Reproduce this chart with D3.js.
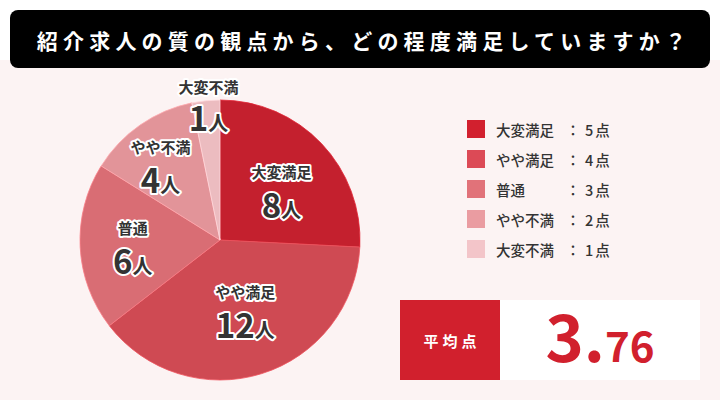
<!DOCTYPE html>
<html><head><meta charset="utf-8">
<script src="https://cdn.jsdelivr.net/npm/d3@7"></script>
<style>
html,body{margin:0;padding:0;background:#fff;}
text{font-family:"Noto Sans CJK JP","Noto Sans",sans-serif;}
</style></head>
<body>
<svg id="c" width="720" height="400"></svg>
<script>
const title = "紹介求人の質の観点から、どの程度満足していますか？";
const categories = ["大変満足","やや満足","普通","やや不満","大変不満"];
const counts = [8,12,6,4,1];
const scores = ["5点","4点","3点","2点","1点"];
const pieColors = ["#c4202e","#cf4a53","#d96d74","#e29499","#ecbcc0"];
const legendColors = ["#d2202e","#dc4a56","#e17279","#ea9ca1","#f3c5c9"];
const averageLabel = "平均点";
const averageValue = ["3.","76"];

const svg = d3.select("#c");
svg.append("rect").attr("x",0).attr("y",60).attr("width",720).attr("height",340).attr("fill","#fcf3f3");
svg.append("rect").attr("x",10).attr("y",10).attr("width",700).attr("height",58).attr("rx",8).attr("fill","#000");
svg.append("text").attr("x",364).attr("y",40).attr("text-anchor","middle").attr("dominant-baseline","central")
  .attr("fill","#fff").attr("font-size",21).attr("font-weight",700).attr("letter-spacing","5.2px").text(title);

const cx=220, cy=240, R=140;
const pie = d3.pie().sort(null).value(d=>d)(counts);
const arc = d3.arc().innerRadius(0).outerRadius(R);
const g = svg.append("g").attr("transform",`translate(${cx},${cy})`);
g.selectAll("path").data(pie).join("path").attr("d",arc)
  .attr("fill",(d,i)=>pieColors[i]).attr("stroke",(d,i)=>d3.color(pieColors[i]).brighter(0.4)).attr("stroke-width",0.8);

// label layout: polar placement (radius fraction, angle tweak in degrees) per slice
const labelLayout = [[0.54,8],[0.57,-1],[0.63,-5],[0.65,-6],[0.94,0.8]];
pie.forEach((d,i)=>{
  const a = (d.startAngle+d.endAngle)/2 + labelLayout[i][1]*Math.PI/180;
  const r = R*labelLayout[i][0];
  const x = Math.sin(a)*r, y = -Math.cos(a)*r;
  const lg = g.append("g").attr("transform",`translate(${x},${y})`);
  lg.append("text").attr("text-anchor","middle").attr("y",i===4?-16:-18).attr("font-size",15).attr("font-weight",700)
    .attr("fill","#333").attr("stroke","#fff").attr("stroke-width",4).attr("stroke-linejoin","round")
    .attr("paint-order","stroke").text(categories[i]);
  const t = lg.append("text").attr("text-anchor","middle").attr("y",22).attr("font-weight",700)
    .attr("fill","#333").attr("stroke","#fff").attr("stroke-width",4).attr("stroke-linejoin","round")
    .attr("paint-order","stroke");
  t.append("tspan").attr("font-size",33).text(counts[i]);
  t.append("tspan").attr("font-size",20).text("人");
});

// legend
const leg = svg.append("g").attr("transform","translate(467,120)");
categories.forEach((c,i)=>{
  const row = leg.append("g").attr("transform",`translate(0,${i*30})`);
  row.append("rect").attr("width",18).attr("height",18).attr("fill",legendColors[i]);
  row.append("text").attr("x",29).attr("y",9).attr("dominant-baseline","central").attr("font-size",14.5)
    .attr("fill","#333").attr("font-weight",500).text(c);
  row.append("text").attr("x",106).attr("y",9).attr("text-anchor","middle").attr("dominant-baseline","central").attr("font-size",14.5)
    .attr("fill","#333").attr("font-weight",500).text("：");
  row.append("text").attr("x",118).attr("y",9).attr("dominant-baseline","central").attr("font-size",14.5)
    .attr("fill","#333").attr("font-weight",500).attr("letter-spacing","2px").text(scores[i]);
});

// average box
svg.append("rect").attr("x",400).attr("y",300).attr("width",100).attr("height",80).attr("fill","#d1202d");
svg.append("rect").attr("x",500).attr("y",300).attr("width",200).attr("height",80).attr("fill","#fff");
svg.append("text").attr("x",452).attr("y",340).attr("text-anchor","middle").attr("dominant-baseline","central")
  .attr("fill","#fff").attr("font-size",15).attr("font-weight",700).attr("letter-spacing","4px").text(averageLabel);
const av = svg.append("text").attr("x",600).attr("y",362).attr("text-anchor","middle").attr("fill","#d1202d").attr("font-weight",700)
  .attr("font-family","'Noto Sans',sans-serif");
av.append("tspan").attr("font-size",65).text(averageValue[0]);
av.append("tspan").attr("font-size",42).text(averageValue[1]);
</script>
</body></html>
